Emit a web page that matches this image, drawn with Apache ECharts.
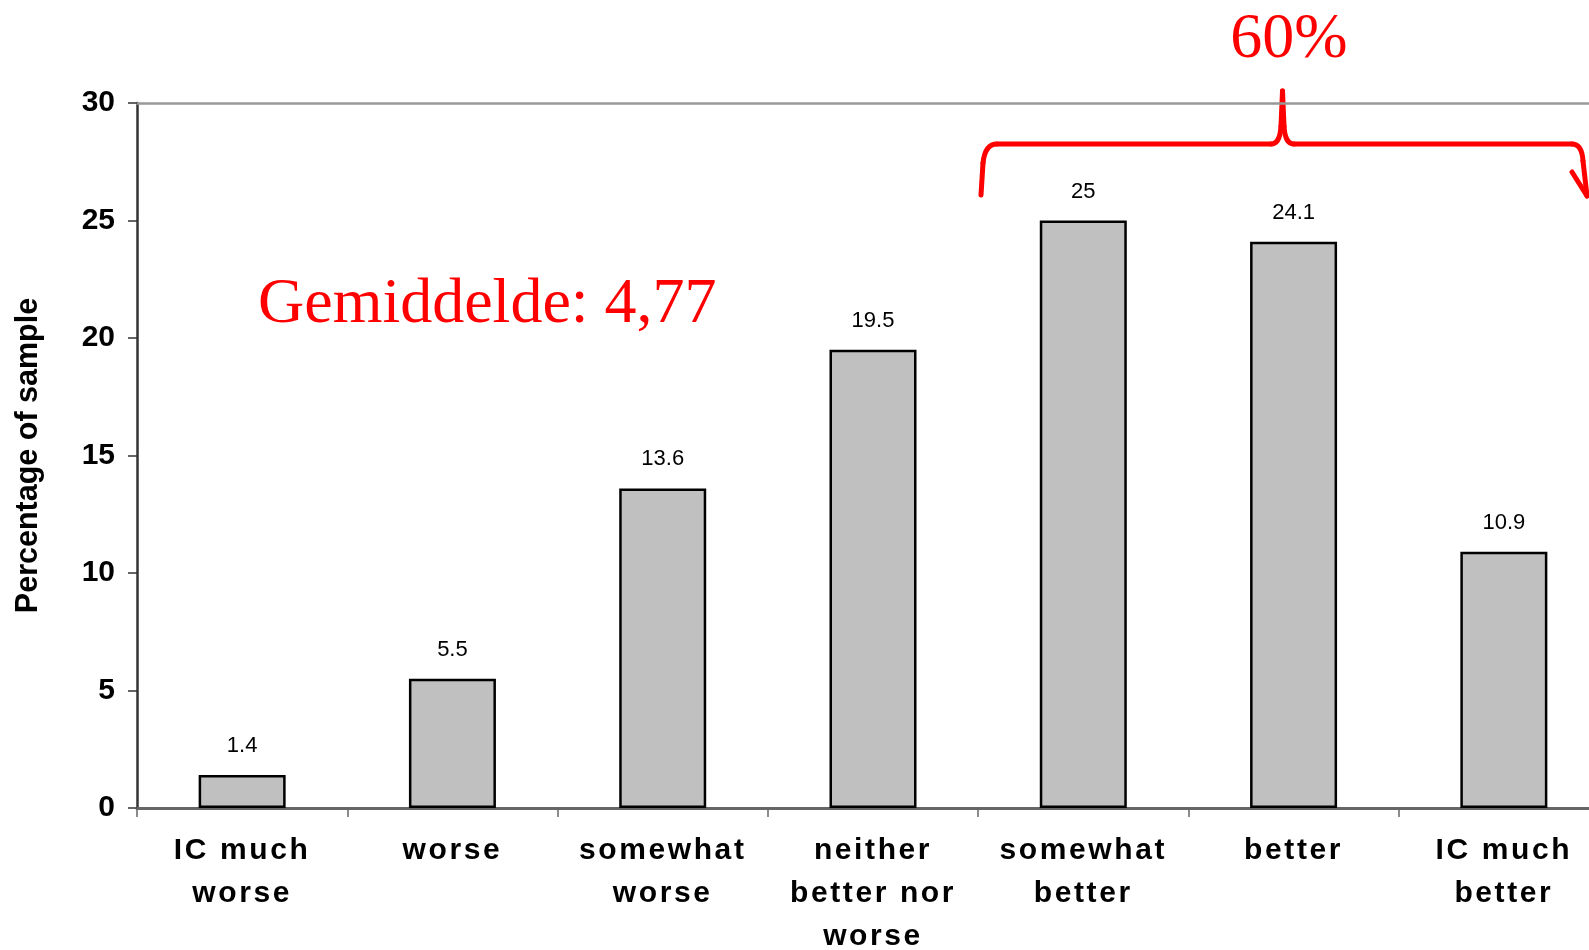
<!DOCTYPE html>
<html>
<head>
<meta charset="utf-8">
<script src="https://cdn.jsdelivr.net/npm/echarts@6/dist/echarts.min.js"></script>
<style>
html,body{margin:0;padding:0;background:#fff;}
#chart{width:1589px;height:950px;}
</style>
</head>
<body>
<div id="chart"></div>
<script>
const categories = ["IC much\nworse", "worse", "somewhat\nworse", "neither\nbetter nor\nworse", "somewhat\nbetter", "better", "IC much\nbetter"];
const values = [1.4, 5.5, 13.6, 19.5, 25, 24.1, 10.9];
const valueLabels = ["1.4", "5.5", "13.6", "19.5", "25", "24.1", "10.9"];
const yTicks = { min: 0, max: 30, interval: 5 };
const meanText = "Gemiddelde: 4,77";
const shareText = "60%";

// the category labels of the original are set with a wide letter spacing
(function () {
  const proto = CanvasRenderingContext2D.prototype;
  const orig = proto.fillText;
  proto.fillText = function (t, x, y, w) {
    if ('letterSpacing' in this) {
      this.letterSpacing = this.font.indexOf('Helvetica') >= 0 ? '2.6px' : '0px';
    }
    return w === undefined ? orig.call(this, t, x, y) : orig.call(this, t, x, y, w);
  };
})();

const chart = echarts.init(document.getElementById('chart'), null, { renderer: 'canvas' });

const braceStyle = { fill: null, stroke: '#FF0000', lineWidth: 5, lineCap: 'round', lineJoin: 'round' };
function seg(x1, y1, x2, y2) {
  return { type: 'line', shape: { x1: x1, y1: y1, x2: x2, y2: y2 }, style: braceStyle, silent: true };
}
function curve(x1, y1, cx, cy, x2, y2) {
  return { type: 'bezierCurve', shape: { x1: x1, y1: y1, cpx1: cx, cpy1: cy, x2: x2, y2: y2 }, style: braceStyle, silent: true };
}

const option = {
  animation: false,
  backgroundColor: '#ffffff',
  grid: { left: 137, top: 103, width: 1472, height: 705, containLabel: false, outerBoundsMode: 'none' },
  xAxis: [
    {
      type: 'category',
      data: categories,
      boundaryGap: true,
      axisLine: { show: true, lineStyle: { color: '#666666', width: 3 } },
      axisTick: { show: true, alignWithLabel: false, length: 9, lineStyle: { color: '#666666', width: 1.5 } },
      axisLabel: {
        interval: 0,
        margin: 21,
        color: '#000000',
        fontFamily: '"Liberation Sans", Arial, Helvetica',
        fontWeight: 'bold',
        fontSize: 30,
        lineHeight: 43
      }
    },
    {
      type: 'category',
      position: 'top',
      data: categories,
      axisLine: { show: true, lineStyle: { color: '#999999', width: 2.5 } },
      axisTick: { show: false },
      axisLabel: { show: false }
    }
  ],
  yAxis: {
    type: 'value',
    min: yTicks.min,
    max: yTicks.max,
    interval: yTicks.interval,
    name: 'Percentage of sample',
    nameLocation: 'middle',
    nameGap: 93,
    nameTextStyle: {
      color: '#000000',
      fontFamily: 'Liberation Sans, Arial, sans-serif',
      fontWeight: 'bold',
      fontSize: 30.5
    },
    axisLine: { show: true, lineStyle: { color: '#333333', width: 2.5 } },
    axisTick: { show: true, length: 9, lineStyle: { color: '#333333', width: 1.5 } },
    splitLine: { show: false },
    axisLabel: {
      margin: 22,
      color: '#000000',
      fontFamily: 'Liberation Sans, Arial, sans-serif',
      fontWeight: 'bold',
      fontSize: 30
    }
  },
  series: [
    {
      type: 'bar',
      data: values,
      barWidth: 87,
      itemStyle: { color: '#C0C0C0', borderColor: '#000000', borderWidth: 2.5 },
      label: {
        show: true,
        position: 'top',
        distance: 18,
        color: '#000000',
        fontFamily: 'Liberation Sans, Arial, sans-serif',
        fontSize: 22,
        formatter: function (p) { return valueLabels[p.dataIndex]; }
      },
      silent: true
    }
  ],
  graphic: [
    {
      type: 'text',
      x: 258,
      y: 305,
      silent: true,
      style: {
        text: meanText,
        fill: '#FF0000',
        font: '64px "Liberation Serif", "Times New Roman", serif',
        align: 'left',
        verticalAlign: 'middle'
      }
    },
    {
      type: 'text',
      x: 1289,
      y: 40,
      silent: true,
      style: {
        text: shareText,
        fill: '#FF0000',
        font: '64px "Liberation Serif", "Times New Roman", serif',
        align: 'center',
        verticalAlign: 'middle'
      }
    },
    seg(981, 195, 983, 163),
    curve(983, 163, 985, 144, 997, 144),
    seg(997, 144, 1271, 144),
    curve(1271, 144, 1280, 144, 1281, 126),
    seg(1281, 126, 1282.5, 91),
    seg(1282.5, 91, 1284, 126),
    curve(1284, 126, 1285, 144, 1294, 144),
    seg(1294, 144, 1572, 144),
    curve(1572, 144, 1582, 144, 1583, 161),
    seg(1583, 161, 1587, 196),
    seg(1572, 172, 1587, 196)
  ]
};
chart.setOption(option);
</script>
</body>
</html>
